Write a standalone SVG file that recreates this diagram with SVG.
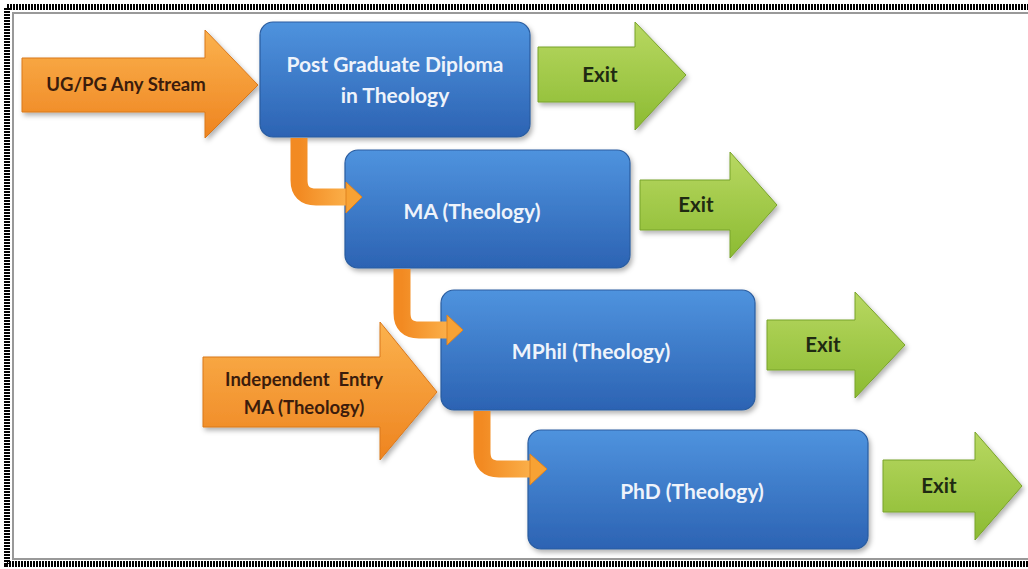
<svg xmlns="http://www.w3.org/2000/svg" width="1028" height="569" viewBox="0 0 1028 569">
<style>
.box{fill:url(#gBlue);stroke:#2a5c9f;stroke-width:1.2;filter:url(#sh)}
.org{fill:url(#gOrange);stroke:#d9781c;stroke-width:1;filter:url(#sh)}
.grn{fill:url(#gGreen);stroke:#79a32a;stroke-width:1;filter:url(#sh)}
.bt{font-family:Lato,"Liberation Sans",sans-serif;font-weight:bold;font-size:21px;fill:#eef3fb;text-anchor:middle}
.ot{font-family:Lato,"Liberation Sans",sans-serif;font-weight:bold;font-size:18.5px;fill:#3b1c0c;text-anchor:middle;white-space:pre}
.gt{font-family:Lato,"Liberation Sans",sans-serif;font-weight:bold;font-size:20.5px;fill:#1f2a12;text-anchor:middle}
.bend{fill:none;stroke:url(#gBend);stroke-width:17;stroke-linejoin:round}
.head{fill:#f7a234;stroke:#e0821e;stroke-width:1}
</style>
<defs>
<linearGradient id="gBlue" x1="0" y1="0" x2="0" y2="1"><stop offset="0" stop-color="#4f93de"/><stop offset="1" stop-color="#2c63b3"/></linearGradient>
<linearGradient id="gOrange" x1="0" y1="0" x2="0" y2="1"><stop offset="0" stop-color="#fbb24e"/><stop offset="1" stop-color="#ee8420"/></linearGradient>
<linearGradient id="gGreen" x1="0" y1="0" x2="0" y2="1"><stop offset="0" stop-color="#b8d862"/><stop offset="1" stop-color="#8cbb32"/></linearGradient>
<linearGradient id="gBend" x1="0" y1="0" x2="1" y2="0"><stop offset="0" stop-color="#f28a22"/><stop offset="1" stop-color="#fbb04a"/></linearGradient>
<filter id="sh" x="-10%" y="-10%" width="130%" height="130%"><feDropShadow dx="2" dy="3" stdDeviation="2.5" flood-color="#000" flood-opacity="0.3"/></filter>
</defs>
<rect x="0" y="0" width="1028" height="569" fill="#fff"/>
<g id="frame" fill="none">
<rect x="7" y="7" width="1030" height="557" stroke="#000" stroke-width="6" stroke-dasharray="2 1"/>
<rect x="13" y="13" width="1030" height="546" stroke="#999" stroke-width="2"/>
</g>
<g id="entry1">
<polygon class="org" points="22,58 205,58 205,30 258,85 205,138 205,112 22,112"/>
<text class="ot" x="126" y="91">UG/PG Any Stream</text>
</g>
<g id="entry2">
<polygon class="org" points="203,357 380,357 380,322 437,392 380,460 380,427 203,427"/>
<text class="ot" x="304" y="386" xml:space="preserve">Independent  Entry</text>
<text class="ot" x="304" y="414">MA (Theology)</text>
</g>
<g id="pgd">
<rect class="box" x="260" y="22" width="270" height="115" rx="13"/>
<text class="bt" x="395" y="72">Post Graduate Diploma</text>
<text class="bt" x="395" y="103">in Theology</text>
</g>
<g id="ma">
<rect class="box" x="345" y="150" width="285" height="118" rx="13"/>
<text class="bt" x="472" y="219">MA (Theology)</text>
</g>
<g id="mphil">
<rect class="box" x="441" y="290" width="314" height="120" rx="13"/>
<text class="bt" x="591" y="359">MPhil (Theology)</text>
</g>
<g id="phd">
<rect class="box" x="528" y="430" width="340" height="119" rx="13"/>
<text class="bt" x="692" y="499">PhD (Theology)</text>
</g>
<g id="exit1">
<polygon class="grn" points="538,47 635,47 635,22 686,75 635,130 635,102 538,102"/>
<text class="gt" x="600" y="82">Exit</text>
</g>
<g id="exit2">
<polygon class="grn" points="640,180 730,180 730,152 777,205 730,258 730,230 640,230"/>
<text class="gt" x="696" y="212">Exit</text>
</g>
<g id="exit3">
<polygon class="grn" points="767,320 855,320 855,292 905,345 855,398 855,370 767,370"/>
<text class="gt" x="823" y="352">Exit</text>
</g>
<g id="exit4">
<polygon class="grn" points="883,460 975,460 975,432 1022,486 975,540 975,512 883,512"/>
<text class="gt" x="939" y="493">Exit</text>
</g>
<g id="connectors">
<path class="bend" d="M299 138 V180 Q299 197 316 197 H348"/>
<polygon class="head" points="346,182 362,197 346,213"/>
<path class="bend" d="M402 269 V313 Q402 330 419 330 H449"/>
<polygon class="head" points="447,315 463,330 447,345"/>
<path class="bend" d="M482 411 V452 Q482 469 499 469 H532"/>
<polygon class="head" points="530,454 547,469 530,485"/>
</g>
</svg>
